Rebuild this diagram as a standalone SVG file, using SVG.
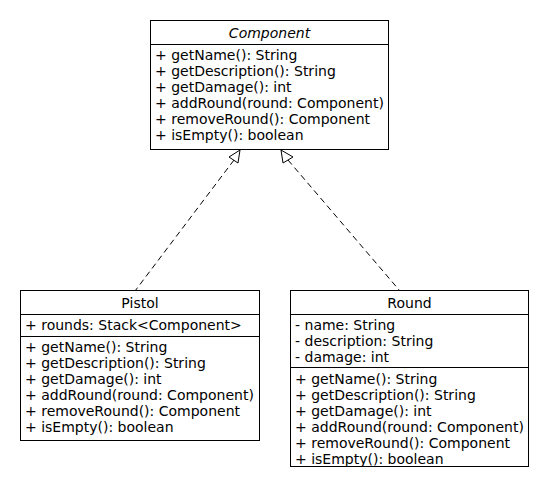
<svg xmlns="http://www.w3.org/2000/svg" width="550" height="490" viewBox="0 0 550 490">
<style>
.box{fill:#fff;stroke:#000;stroke-width:1}
.sep{stroke:#000;stroke-width:1}
text{font-family:"DejaVu Sans",sans-serif;font-size:14px;fill:#000;font-weight:normal}
.title{text-anchor:middle}
.it{font-style:italic}
.dash{fill:none;stroke:#000;stroke-width:1;stroke-dasharray:6,4}
.head{fill:#fff;stroke:#000;stroke-width:1}
</style>
<rect width="550" height="490" fill="#fff"/>
<g id="connectors">
<line class="dash" x1="234" y1="160" x2="135" y2="291"/>
<polygon class="head" points="240,150 229,157 238,163"/>
<line class="dash" x1="288" y1="160" x2="400" y2="291"/>
<polygon class="head" points="281,150 283,163 293,157"/>
</g>
<g id="Component">
<rect class="box" x="150.5" y="20.5" width="238" height="129"/>
<line class="sep" x1="150.5" y1="44.5" x2="388.5" y2="44.5"/>
<text class="title it" x="269.5" y="38">Component</text>
<text x="155" y="60">+ getName(): String</text>
<text x="155" y="76">+ getDescription(): String</text>
<text x="155" y="92">+ getDamage(): int</text>
<text x="155" y="108">+ addRound(round: Component)</text>
<text x="155" y="124">+ removeRound(): Component</text>
<text x="155" y="140">+ isEmpty(): boolean</text>
</g>
<g id="Pistol">
<rect class="box" x="20.5" y="290.5" width="239" height="150"/>
<line class="sep" x1="20.5" y1="314.5" x2="259.5" y2="314.5"/>
<line class="sep" x1="20.5" y1="336.5" x2="259.5" y2="336.5"/>
<text class="title" x="140" y="308">Pistol</text>
<text x="25" y="330">+ rounds: Stack&lt;Component&gt;</text>
<text x="25" y="352">+ getName(): String</text>
<text x="25" y="368">+ getDescription(): String</text>
<text x="25" y="384">+ getDamage(): int</text>
<text x="25" y="400">+ addRound(round: Component)</text>
<text x="25" y="416">+ removeRound(): Component</text>
<text x="25" y="432">+ isEmpty(): boolean</text>
</g>
<g id="Round">
<rect class="box" x="290.5" y="290.5" width="238" height="176"/>
<line class="sep" x1="290.5" y1="314.5" x2="528.5" y2="314.5"/>
<line class="sep" x1="290.5" y1="367.5" x2="528.5" y2="367.5"/>
<text class="title" x="409.5" y="308">Round</text>
<text x="295" y="330">- name: String</text>
<text x="295" y="346">- description: String</text>
<text x="295" y="362">- damage: int</text>
<text x="295" y="384">+ getName(): String</text>
<text x="295" y="400">+ getDescription(): String</text>
<text x="295" y="416">+ getDamage(): int</text>
<text x="295" y="432">+ addRound(round: Component)</text>
<text x="295" y="448">+ removeRound(): Component</text>
<text x="295" y="464">+ isEmpty(): boolean</text>
</g>
</svg>
